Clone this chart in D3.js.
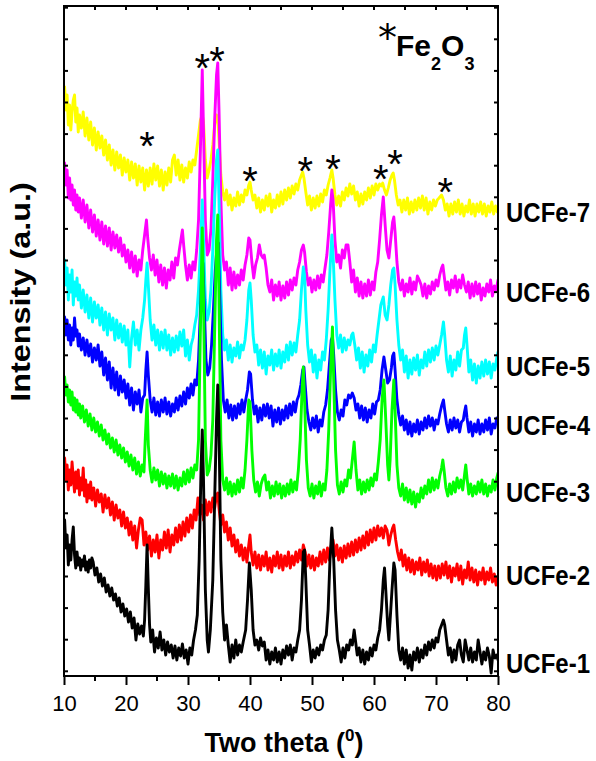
<!DOCTYPE html>
<html>
<head>
<meta charset="utf-8">
<script src="https://cdn.jsdelivr.net/npm/d3@7"></script>
<style>
  body { margin: 0; background: #fff; }
  svg { display: block; }
  text { font-family: "Liberation Sans", Arial, Helvetica, sans-serif; fill: #000; }
</style>
</head>
<body>
<svg id="chart" width="596" height="761"></svg>
<script>
// XRD patterns of the UCFe samples, stacked with a vertical offset each.
const samples = ["UCFe-1", "UCFe-2", "UCFe-3", "UCFe-4", "UCFe-5", "UCFe-6", "UCFe-7"];
const offsets = [0, 100, 180, 250, 300, 380, 460];

// [2θ (deg), intensity (a.u.)]
const ucfe1 = [[10.1,180],[10.3,152],[10.5,165],[10.7,135],[10.9,155],[11.1,140],[11.3,160],[11.5,173],[11.7,145],[11.9,132],[12.1,148],[12.3,135],[12.5,142],[12.7,130],[12.9,140],[13.1,134],[13.3,144],[13.5,130],[13.7,138],[13.9,128],[14.1,140],[14.3,132],[14.5,142],[14.7,138],[15.0,125],[15.3,132],[15.6,118],[15.9,126],[16.2,114],[16.5,122],[16.8,108],[17.1,115],[17.4,104],[17.7,112],[18.0,100],[18.3,106],[18.6,94],[18.9,102],[19.2,88],[19.5,96],[19.8,84],[20.1,91],[20.4,78],[20.7,88],[21.0,72],[21.3,82],[21.6,60],[21.9,76],[22.2,66],[22.5,74],[22.8,64],[23.0,80],[23.2,115],[23.4,155],[23.6,112],[23.8,75],[24.0,58],[24.3,70],[24.6,48],[24.9,62],[25.2,52],[25.5,68],[25.8,50],[26.1,60],[26.4,45],[26.7,58],[27.0,48],[27.3,55],[27.6,42],[27.9,54],[28.2,40],[28.5,52],[28.8,44],[29.1,56],[29.4,42],[29.7,50],[30.0,36],[30.3,52],[30.6,45],[30.9,60],[31.2,70],[31.5,85],[31.8,140],[32.1,230],[32.3,270],[32.5,220],[32.8,110],[33.1,60],[33.3,48],[33.6,70],[34.0,120],[34.3,200],[34.6,280],[34.8,315],[35.0,270],[35.3,140],[35.6,88],[35.9,60],[36.2,75],[36.5,55],[36.8,38],[37.1,55],[37.4,42],[37.7,60],[38.0,45],[38.3,55],[38.6,48],[38.9,58],[39.3,70],[39.6,100],[39.9,137],[40.2,110],[40.5,70],[40.8,55],[41.1,60],[41.4,50],[41.7,62],[42.0,54],[42.3,58],[42.6,40],[42.9,50],[43.2,36],[43.5,48],[43.8,40],[44.1,52],[44.4,38],[44.7,48],[45.0,36],[45.3,50],[45.6,42],[45.9,54],[46.2,45],[46.5,55],[46.8,40],[47.1,52],[47.4,48],[47.7,60],[48.0,70],[48.3,100],[48.6,148],[48.8,150],[49.0,120],[49.3,70],[49.6,55],[49.9,38],[50.2,50],[50.5,42],[50.8,52],[51.1,45],[51.4,55],[51.7,50],[52.0,60],[52.3,65],[52.6,90],[52.9,140],[53.2,172],[53.5,140],[53.8,90],[54.1,60],[54.4,50],[54.7,38],[55.0,52],[55.3,42],[55.6,55],[55.9,50],[56.2,60],[56.5,55],[56.8,70],[57.0,60],[57.3,45],[57.6,52],[57.9,38],[58.2,50],[58.5,36],[58.8,48],[59.1,40],[59.4,52],[59.7,44],[60.0,55],[60.3,50],[60.6,62],[60.9,70],[61.2,90],[61.5,120],[61.7,132],[61.9,110],[62.2,75],[62.4,60],[62.6,80],[62.9,110],[63.2,137],[63.4,130],[63.7,85],[64.0,50],[64.3,40],[64.6,52],[64.9,36],[65.2,50],[65.5,32],[65.8,45],[66.1,30],[66.4,48],[66.7,40],[67.0,52],[67.3,38],[67.6,50],[67.9,42],[68.2,55],[68.5,45],[68.8,58],[69.1,50],[69.4,60],[69.7,52],[70.0,62],[70.3,58],[70.6,70],[70.9,75],[71.2,80],[71.4,75],[71.7,60],[72.0,45],[72.3,52],[72.6,38],[72.9,50],[73.2,40],[73.5,55],[73.8,60],[74.1,45],[74.4,38],[74.7,60],[75.0,50],[75.3,40],[75.6,52],[75.9,38],[76.2,48],[76.5,40],[76.8,60],[77.1,48],[77.4,36],[77.7,48],[78.0,40],[78.3,52],[78.6,44],[78.9,27],[79.2,50],[79.5,42],[79.8,45],[80.0,40]];

const ucfe2 = [[10.1,142],[10.3,120],[10.5,135],[10.7,110],[10.9,130],[11.1,115],[11.3,138],[11.5,122],[11.7,108],[11.9,128],[12.1,112],[12.3,130],[12.5,105],[12.7,122],[12.9,110],[13.1,132],[13.3,104],[13.5,120],[13.7,98],[13.9,115],[14.1,102],[14.3,118],[14.5,100],[14.8,112],[15.1,94],[15.4,110],[15.7,98],[16.0,106],[16.3,88],[16.6,105],[16.9,92],[17.2,102],[17.5,85],[17.8,98],[18.1,80],[18.4,95],[18.7,82],[19.0,90],[19.3,74],[19.6,88],[19.9,72],[20.2,82],[20.5,65],[20.8,78],[21.1,60],[21.4,74],[21.7,52],[22.0,70],[22.3,82],[22.6,80],[22.9,55],[23.2,68],[23.5,50],[23.8,64],[24.1,44],[24.4,60],[24.7,48],[25.0,65],[25.3,42],[25.6,60],[25.9,50],[26.2,68],[26.5,52],[26.8,70],[27.1,48],[27.4,65],[27.7,55],[28.0,72],[28.3,58],[28.6,75],[28.9,60],[29.2,78],[29.5,64],[29.8,82],[30.1,68],[30.4,85],[30.7,72],[31.0,90],[31.3,80],[31.6,102],[31.9,85],[32.2,95],[32.5,80],[32.8,100],[33.1,85],[33.4,98],[33.7,88],[34.0,102],[34.3,92],[34.6,105],[34.8,107],[35.0,92],[35.3,75],[35.6,85],[35.9,68],[36.2,78],[36.5,60],[36.8,72],[37.1,54],[37.4,65],[37.7,48],[38.0,60],[38.3,44],[38.6,55],[38.9,40],[39.2,52],[39.5,38],[39.8,55],[40.0,65],[40.2,48],[40.5,35],[40.8,48],[41.1,32],[41.4,45],[41.7,30],[42.0,44],[42.3,34],[42.6,48],[42.9,30],[43.2,42],[43.5,28],[43.8,44],[44.1,34],[44.4,48],[44.7,32],[45.0,45],[45.3,30],[45.6,44],[45.9,34],[46.2,48],[46.5,32],[46.8,44],[47.1,35],[47.4,48],[47.7,38],[48.0,50],[48.3,40],[48.6,55],[48.9,48],[49.2,34],[49.5,45],[49.8,32],[50.1,44],[50.4,30],[50.7,42],[51.0,34],[51.3,48],[51.6,36],[51.9,50],[52.2,38],[52.5,52],[52.8,40],[53.1,54],[53.4,60],[53.7,44],[54.0,55],[54.3,40],[54.6,52],[54.9,38],[55.2,54],[55.5,42],[55.8,56],[56.1,44],[56.4,58],[56.7,45],[57.0,60],[57.3,48],[57.6,62],[57.9,50],[58.2,64],[58.5,52],[58.8,68],[59.1,55],[59.4,70],[59.7,58],[60.0,72],[60.3,60],[60.6,74],[60.9,64],[61.2,72],[61.5,62],[61.8,74],[62.1,70],[62.4,55],[62.7,65],[63.0,72],[63.2,75],[63.5,60],[63.8,48],[64.1,40],[64.4,50],[64.7,34],[65.0,45],[65.3,30],[65.6,42],[65.9,28],[66.2,40],[66.5,26],[66.8,38],[67.1,30],[67.4,42],[67.7,25],[68.0,38],[68.3,28],[68.6,40],[68.9,24],[69.2,36],[69.5,22],[69.8,34],[70.1,20],[70.4,34],[70.7,22],[71.0,36],[71.3,25],[71.6,38],[71.9,22],[72.2,34],[72.5,18],[72.8,32],[73.1,24],[73.4,36],[73.7,20],[74.0,34],[74.3,16],[74.6,30],[74.9,22],[75.2,38],[75.5,20],[75.8,32],[76.1,18],[76.4,30],[76.7,15],[77.0,28],[77.3,20],[77.6,32],[77.9,16],[78.2,28],[78.5,20],[78.8,32],[79.1,18],[79.4,26],[79.7,15],[80.0,24]];

const ucfe3 = [[10.1,143],[10.3,125],[10.5,135],[10.7,118],[10.9,130],[11.1,115],[11.3,128],[11.5,110],[11.7,122],[11.9,108],[12.1,120],[12.3,105],[12.5,116],[12.7,102],[13.0,114],[13.3,98],[13.6,110],[13.9,94],[14.2,106],[14.5,90],[14.8,102],[15.1,88],[15.4,98],[15.7,84],[16.0,95],[16.3,80],[16.6,90],[16.9,76],[17.2,86],[17.5,72],[17.8,82],[18.1,68],[18.4,80],[18.7,65],[19.0,75],[19.3,62],[19.6,72],[19.9,58],[20.2,68],[20.5,54],[20.8,65],[21.1,50],[21.4,62],[21.7,46],[22.0,58],[22.3,44],[22.6,55],[22.9,48],[23.1,80],[23.4,120],[23.6,75],[23.9,50],[24.2,38],[24.5,52],[24.8,40],[25.1,50],[25.4,34],[25.7,48],[26.0,36],[26.3,46],[26.6,32],[26.9,44],[27.2,34],[27.5,46],[27.8,32],[28.1,44],[28.4,30],[28.7,42],[29.0,34],[29.3,48],[29.6,36],[29.9,50],[30.2,38],[30.5,52],[30.8,42],[31.1,55],[31.4,50],[31.7,80],[32.0,190],[32.3,292],[32.5,220],[32.8,80],[33.1,45],[33.4,50],[33.7,65],[34.0,100],[34.3,190],[34.6,280],[34.8,305],[35.0,220],[35.3,80],[35.6,40],[35.9,30],[36.2,42],[36.5,26],[36.8,38],[37.1,24],[37.4,36],[37.7,26],[38.0,40],[38.3,28],[38.6,42],[38.9,32],[39.2,50],[39.5,80],[39.8,120],[40.0,118],[40.3,70],[40.6,40],[40.9,28],[41.2,38],[41.5,24],[41.8,36],[42.1,42],[42.4,45],[42.7,30],[43.0,38],[43.3,22],[43.6,34],[43.9,24],[44.2,38],[44.5,26],[44.8,36],[45.1,22],[45.4,34],[45.7,24],[46.0,36],[46.3,26],[46.6,40],[46.9,28],[47.2,38],[47.5,30],[47.8,50],[48.1,80],[48.4,130],[48.6,153],[48.8,120],[49.1,60],[49.4,32],[49.7,24],[50.0,36],[50.3,22],[50.6,34],[50.9,26],[51.2,38],[51.5,24],[51.8,36],[52.1,30],[52.4,50],[52.7,90],[53.0,150],[53.3,193],[53.5,140],[53.8,70],[54.1,35],[54.4,26],[54.7,38],[55.0,28],[55.3,40],[55.6,34],[55.9,50],[56.2,42],[56.5,60],[56.8,78],[57.1,50],[57.4,30],[57.7,40],[58.0,26],[58.3,38],[58.6,28],[58.9,40],[59.2,30],[59.5,42],[59.8,34],[60.1,46],[60.4,40],[60.7,58],[61.0,80],[61.3,120],[61.6,140],[61.9,100],[62.2,55],[62.4,40],[62.6,60],[62.9,110],[63.2,140],[63.4,110],[63.7,55],[64.0,32],[64.3,24],[64.6,36],[64.9,20],[65.2,32],[65.5,18],[65.8,30],[66.1,16],[66.4,28],[66.7,13],[67.0,26],[67.3,18],[67.6,32],[67.9,22],[68.2,34],[68.5,26],[68.8,40],[69.1,28],[69.4,42],[69.7,30],[70.0,40],[70.3,32],[70.6,44],[70.9,52],[71.1,60],[71.3,50],[71.6,32],[71.9,24],[72.2,36],[72.5,26],[72.8,38],[73.1,28],[73.4,42],[73.7,32],[74.0,40],[74.3,30],[74.6,45],[74.8,55],[75.0,42],[75.3,26],[75.6,36],[75.9,24],[76.2,34],[76.5,26],[76.8,38],[77.1,28],[77.4,40],[77.7,26],[78.0,36],[78.3,24],[78.6,34],[78.9,28],[79.2,40],[79.5,30],[79.8,42],[80.0,47]];

const ucfe4 = [[10.1,133],[10.3,115],[10.5,130],[10.7,110],[10.9,125],[11.1,105],[11.3,122],[11.5,110],[11.7,132],[11.9,114],[12.1,120],[12.3,104],[12.5,116],[12.8,100],[13.1,112],[13.4,95],[13.7,110],[14.0,94],[14.3,106],[14.6,88],[14.9,102],[15.2,90],[15.5,105],[15.8,84],[16.1,98],[16.4,75],[16.7,92],[17.0,70],[17.3,88],[17.6,62],[17.9,82],[18.2,60],[18.5,78],[18.8,55],[19.1,74],[19.4,58],[19.7,70],[20.0,52],[20.3,66],[20.6,45],[20.9,62],[21.2,40],[21.5,58],[21.8,46],[22.1,60],[22.4,38],[22.7,52],[23.0,55],[23.2,80],[23.4,98],[23.6,75],[23.9,50],[24.2,38],[24.5,52],[24.8,35],[25.1,48],[25.4,34],[25.7,50],[26.0,38],[26.3,52],[26.6,36],[26.9,48],[27.2,34],[27.5,46],[27.8,38],[28.1,52],[28.4,40],[28.7,54],[29.0,44],[29.3,58],[29.6,46],[29.9,62],[30.2,52],[30.5,66],[30.8,55],[31.1,70],[31.4,65],[31.7,90],[32.0,140],[32.2,180],[32.4,187],[32.6,150],[32.9,90],[33.2,75],[33.5,82],[33.8,105],[34.1,140],[34.4,180],[34.7,205],[34.9,207],[35.1,160],[35.4,90],[35.7,50],[36.0,38],[36.3,50],[36.6,32],[36.9,45],[37.2,30],[37.5,44],[37.8,32],[38.1,46],[38.4,36],[38.7,50],[39.0,38],[39.3,50],[39.6,60],[39.9,78],[40.1,76],[40.4,50],[40.7,36],[41.0,44],[41.3,28],[41.6,42],[41.9,30],[42.2,45],[42.5,34],[42.8,46],[43.1,32],[43.4,44],[43.7,24],[44.0,40],[44.3,28],[44.6,42],[44.9,26],[45.2,40],[45.5,30],[45.8,44],[46.1,32],[46.4,46],[46.7,35],[47.0,48],[47.3,38],[47.6,50],[47.9,55],[48.2,65],[48.5,80],[48.7,83],[48.9,65],[49.2,40],[49.5,28],[49.8,20],[50.1,32],[50.4,22],[50.7,34],[51.0,18],[51.3,30],[51.6,24],[51.9,38],[52.2,45],[52.5,60],[52.8,85],[53.1,110],[53.3,113],[53.5,95],[53.8,60],[54.1,38],[54.4,30],[54.7,40],[55.0,34],[55.3,50],[55.6,45],[55.9,55],[56.2,52],[56.5,57],[56.8,52],[57.1,40],[57.4,46],[57.7,32],[58.0,44],[58.3,30],[58.6,42],[58.9,28],[59.2,40],[59.5,32],[59.8,46],[60.1,36],[60.4,48],[60.7,50],[61.0,60],[61.3,80],[61.6,93],[61.9,80],[62.2,67],[62.5,70],[62.8,82],[63.0,94],[63.2,97],[63.4,80],[63.7,50],[64.0,35],[64.3,25],[64.6,34],[64.9,20],[65.2,30],[65.5,16],[65.8,28],[66.1,14],[66.4,26],[66.7,18],[67.0,30],[67.3,16],[67.6,28],[67.9,20],[68.2,32],[68.5,22],[68.8,34],[69.1,24],[69.4,32],[69.7,20],[70.0,30],[70.3,26],[70.6,36],[70.9,44],[71.2,50],[71.4,40],[71.7,26],[72.0,18],[72.3,30],[72.6,20],[72.9,32],[73.2,22],[73.5,30],[73.8,18],[74.1,28],[74.4,30],[74.6,38],[74.8,44],[75.0,32],[75.3,18],[75.6,28],[75.9,14],[76.2,26],[76.5,18],[76.8,30],[77.1,16],[77.4,26],[77.7,18],[78.0,30],[78.3,20],[78.6,32],[78.9,16],[79.2,26],[79.5,22],[79.8,32],[80.0,30]];

const ucfe5 = [[10.1,140],[10.3,115],[10.5,132],[10.7,100],[10.9,125],[11.1,108],[11.3,130],[11.5,95],[11.7,118],[11.9,104],[12.1,122],[12.3,100],[12.5,115],[12.8,92],[13.1,110],[13.4,88],[13.7,105],[14.0,82],[14.3,102],[14.6,78],[14.9,98],[15.2,82],[15.5,95],[15.8,75],[16.1,92],[16.4,70],[16.7,88],[17.0,65],[17.3,86],[17.6,70],[17.9,82],[18.2,60],[18.5,80],[18.8,62],[19.1,76],[19.4,58],[19.7,74],[20.0,55],[20.3,70],[20.6,33],[20.9,62],[21.2,78],[21.5,55],[21.8,70],[22.1,50],[22.4,70],[22.7,82],[23.0,100],[23.2,120],[23.4,137],[23.6,115],[23.9,80],[24.2,60],[24.5,75],[24.8,55],[25.1,70],[25.4,50],[25.7,68],[26.0,52],[26.3,70],[26.6,50],[26.9,65],[27.2,45],[27.5,62],[27.8,48],[28.1,64],[28.4,50],[28.7,68],[29.0,54],[29.3,70],[29.6,44],[29.9,60],[30.2,40],[30.5,55],[30.8,62],[31.1,75],[31.4,85],[31.7,110],[32.0,150],[32.3,200],[32.5,160],[32.8,100],[33.1,80],[33.4,88],[33.7,110],[34.0,150],[34.3,200],[34.6,240],[34.8,250],[35.0,200],[35.3,110],[35.6,65],[35.9,50],[36.2,60],[36.5,40],[36.8,55],[37.1,38],[37.4,52],[37.7,44],[38.0,58],[38.3,42],[38.6,55],[38.9,50],[39.2,60],[39.5,80],[39.8,110],[40.0,117],[40.2,100],[40.5,65],[40.8,48],[41.1,55],[41.4,35],[41.7,50],[42.0,32],[42.3,48],[42.6,26],[42.9,44],[43.2,35],[43.5,50],[43.8,30],[44.1,46],[44.4,34],[44.7,50],[45.0,32],[45.3,48],[45.6,38],[45.9,55],[46.2,40],[46.5,58],[46.8,45],[47.1,57],[47.4,48],[47.7,65],[48.0,80],[48.3,110],[48.6,133],[48.8,125],[49.0,90],[49.3,55],[49.6,38],[49.9,50],[50.2,28],[50.5,45],[50.8,22],[51.1,40],[51.4,30],[51.7,48],[52.0,40],[52.3,60],[52.6,90],[52.9,130],[53.2,165],[53.4,145],[53.7,100],[54.0,65],[54.3,52],[54.6,65],[54.9,48],[55.2,62],[55.5,50],[55.8,60],[56.1,55],[56.4,65],[56.6,67],[56.9,55],[57.2,40],[57.5,52],[57.8,32],[58.1,48],[58.4,28],[58.7,45],[59.0,34],[59.3,50],[59.6,38],[59.9,55],[60.2,48],[60.5,65],[60.8,80],[61.1,95],[61.5,103],[61.8,85],[62.1,80],[62.4,95],[62.7,115],[63.0,130],[63.2,132],[63.4,115],[63.7,80],[64.0,55],[64.3,40],[64.6,50],[64.9,28],[65.2,44],[65.5,22],[65.8,40],[66.1,26],[66.4,42],[66.7,30],[67.0,45],[67.3,25],[67.6,40],[67.9,32],[68.2,48],[68.5,34],[68.8,50],[69.1,38],[69.4,52],[69.7,40],[70.0,54],[70.3,45],[70.6,55],[70.9,65],[71.2,78],[71.4,65],[71.7,40],[72.0,28],[72.3,44],[72.6,24],[72.9,40],[73.2,30],[73.5,48],[73.8,34],[74.1,50],[74.4,52],[74.6,65],[74.8,72],[75.0,55],[75.3,28],[75.6,40],[75.9,20],[76.2,36],[76.5,17],[76.8,34],[77.1,22],[77.4,38],[77.7,24],[78.0,40],[78.3,26],[78.6,38],[78.9,22],[79.2,36],[79.5,30],[79.8,42],[80.0,48]];

const ucfe6 = [[10.1,157],[10.3,135],[10.5,150],[10.7,122],[10.9,142],[11.1,120],[11.3,135],[11.5,115],[11.7,130],[11.9,110],[12.1,125],[12.3,108],[12.5,122],[12.8,102],[13.1,120],[13.4,98],[13.7,115],[14.0,92],[14.3,110],[14.6,88],[14.9,105],[15.2,84],[15.5,100],[15.8,80],[16.1,98],[16.4,76],[16.7,94],[17.0,74],[17.3,92],[17.6,70],[17.9,88],[18.2,72],[18.5,85],[18.8,68],[19.1,82],[19.4,64],[19.7,75],[20.0,58],[20.3,70],[20.6,52],[20.9,68],[21.2,48],[21.5,64],[21.8,44],[22.1,60],[22.4,50],[22.7,70],[23.0,85],[23.3,100],[23.5,82],[23.8,62],[24.1,50],[24.4,65],[24.7,45],[25.0,60],[25.3,38],[25.6,55],[25.9,35],[26.2,52],[26.5,32],[26.8,50],[27.1,40],[27.4,58],[27.7,42],[28.0,62],[28.3,55],[28.6,70],[28.9,82],[29.1,90],[29.3,75],[29.6,55],[29.9,40],[30.2,55],[30.5,42],[30.8,58],[31.1,50],[31.4,70],[31.7,100],[32.0,170],[32.3,250],[32.5,190],[32.8,100],[33.1,65],[33.4,70],[33.7,90],[34.0,140],[34.3,200],[34.6,245],[34.8,257],[35.0,210],[35.3,120],[35.6,65],[35.9,50],[36.2,58],[36.5,35],[36.8,52],[37.1,30],[37.4,48],[37.7,32],[38.0,45],[38.3,35],[38.6,50],[38.9,40],[39.2,55],[39.5,65],[39.8,82],[40.0,80],[40.3,58],[40.6,42],[40.9,55],[41.2,62],[41.5,75],[41.8,65],[42.1,62],[42.3,65],[42.6,52],[42.9,35],[43.2,28],[43.5,40],[43.8,20],[44.1,35],[44.4,24],[44.7,38],[45.0,20],[45.3,34],[45.6,22],[45.9,38],[46.2,25],[46.5,40],[46.8,30],[47.1,42],[47.4,35],[47.7,50],[48.0,58],[48.3,70],[48.6,75],[48.8,68],[49.1,48],[49.4,35],[49.7,42],[50.0,28],[50.3,40],[50.6,30],[50.9,44],[51.2,32],[51.5,45],[51.8,38],[52.1,52],[52.4,65],[52.7,88],[53.0,115],[53.2,130],[53.4,120],[53.7,80],[54.0,58],[54.3,65],[54.6,52],[54.9,70],[55.2,62],[55.5,75],[55.8,75],[56.1,58],[56.4,38],[56.7,50],[57.0,28],[57.3,42],[57.6,24],[57.9,38],[58.2,22],[58.5,36],[58.8,24],[59.1,40],[59.4,25],[59.7,38],[60.0,30],[60.3,48],[60.6,58],[60.9,80],[61.2,105],[61.5,123],[61.8,95],[62.1,70],[62.4,62],[62.7,80],[63.0,98],[63.2,103],[63.4,88],[63.7,58],[64.0,38],[64.3,30],[64.6,40],[64.9,24],[65.2,36],[65.5,28],[65.8,42],[66.1,26],[66.4,38],[66.7,30],[67.0,44],[67.3,40],[67.6,35],[67.9,24],[68.2,36],[68.5,22],[68.8,34],[69.1,26],[69.4,38],[69.7,30],[70.0,40],[70.3,34],[70.6,45],[70.9,52],[71.1,55],[71.3,45],[71.6,30],[71.9,38],[72.2,25],[72.5,40],[72.8,32],[73.1,44],[73.4,28],[73.7,40],[74.0,32],[74.3,45],[74.6,35],[74.9,28],[75.2,38],[75.5,22],[75.8,36],[76.1,24],[76.4,38],[76.7,26],[77.0,36],[77.3,20],[77.6,32],[77.9,24],[78.2,36],[78.5,28],[78.8,40],[79.1,24],[79.4,34],[79.7,30],[80.0,40]];

const ucfe7 = [[10.1,153],[10.3,130],[10.5,145],[10.7,115],[10.9,135],[11.1,110],[11.3,128],[11.5,140],[11.7,145],[11.9,118],[12.1,132],[12.3,108],[12.5,125],[12.8,112],[13.1,128],[13.4,104],[13.7,122],[14.0,100],[14.3,118],[14.6,95],[14.9,112],[15.2,90],[15.5,108],[15.8,92],[16.1,104],[16.4,85],[16.7,100],[17.0,80],[17.3,95],[17.6,75],[17.9,90],[18.2,70],[18.5,88],[18.8,72],[19.1,85],[19.4,65],[19.7,82],[20.0,68],[20.3,80],[20.6,60],[20.9,78],[21.2,62],[21.5,76],[21.8,55],[22.1,74],[22.4,58],[22.7,72],[23.0,50],[23.3,70],[23.6,54],[23.9,72],[24.2,56],[24.5,76],[24.8,60],[25.1,74],[25.4,54],[25.7,70],[26.0,50],[26.3,68],[26.6,55],[26.9,72],[27.2,58],[27.5,80],[27.8,85],[28.1,65],[28.4,80],[28.7,60],[29.0,75],[29.3,58],[29.6,72],[29.9,62],[30.2,78],[30.5,68],[30.8,80],[31.1,75],[31.4,90],[31.7,105],[32.0,120],[32.3,125],[32.5,118],[32.8,80],[33.1,62],[33.4,70],[33.7,80],[34.0,95],[34.3,115],[34.6,125],[34.8,122],[35.0,100],[35.3,65],[35.6,48],[35.9,40],[36.2,50],[36.5,35],[36.8,45],[37.1,30],[37.4,42],[37.7,34],[38.0,48],[38.3,35],[38.6,45],[38.9,38],[39.2,50],[39.5,45],[39.8,55],[40.0,58],[40.2,50],[40.5,40],[40.8,45],[41.1,32],[41.4,42],[41.7,28],[42.0,40],[42.3,30],[42.6,44],[42.9,34],[43.2,46],[43.5,28],[43.8,40],[44.1,32],[44.4,45],[44.7,34],[45.0,48],[45.3,36],[45.6,50],[45.9,40],[46.2,52],[46.5,42],[46.8,54],[47.1,46],[47.4,56],[47.7,50],[48.0,60],[48.3,65],[48.5,68],[48.7,62],[49.0,48],[49.3,35],[49.6,44],[49.9,30],[50.2,42],[50.5,32],[50.8,44],[51.1,34],[51.4,46],[51.7,38],[52.0,50],[52.3,45],[52.6,55],[52.9,62],[53.2,70],[53.4,62],[53.7,45],[54.0,35],[54.3,44],[54.6,34],[54.9,48],[55.2,40],[55.5,52],[55.8,44],[56.1,56],[56.4,46],[56.7,54],[57.0,40],[57.3,48],[57.6,34],[57.9,46],[58.2,36],[58.5,48],[58.8,40],[59.1,52],[59.4,42],[59.7,54],[60.0,45],[60.3,56],[60.6,50],[60.9,56],[61.2,54],[61.4,57],[61.7,50],[62.0,45],[62.3,52],[62.6,60],[62.9,65],[63.1,67],[63.3,60],[63.6,45],[63.9,35],[64.2,40],[64.5,28],[64.8,40],[65.1,30],[65.4,42],[65.7,26],[66.0,38],[66.3,28],[66.6,40],[66.9,30],[67.2,42],[67.5,32],[67.8,44],[68.1,30],[68.4,42],[68.7,26],[69.0,38],[69.3,30],[69.6,40],[69.9,34],[70.2,40],[70.5,42],[70.9,45],[71.2,40],[71.5,30],[71.8,36],[72.1,24],[72.4,36],[72.7,26],[73.0,38],[73.3,28],[73.6,40],[73.9,26],[74.2,36],[74.5,24],[74.8,34],[75.1,28],[75.4,40],[75.7,26],[76.0,36],[76.3,24],[76.6,36],[76.9,28],[77.2,38],[77.5,26],[77.8,36],[78.1,24],[78.4,34],[78.7,28],[79.0,38],[79.3,26],[79.6,34],[79.9,28],[80.0,32]];

const patterns = [ucfe1, ucfe2, ucfe3, ucfe4, ucfe5, ucfe6, ucfe7];
const lineColors = ["#000000", "#ff0000", "#00ff00", "#0000ff", "#00ffff", "#ff00ff", "#ffff00"];

// stacked level at which each sample name is written
const labelLevels = [37, 125, 208, 275, 334, 408, 488];

// Fe2O3 reflections: [2θ, stacked intensity of the marker]
const fe2o3Peaks = [[23.4,565],[32.3,643],[34.7,650],[40.0,530],[48.9,540],[53.4,542],[61.1,532],[63.4,547],[71.5,519]];

const xMajorTicks = [10, 20, 30, 40, 50, 60, 70, 80];
const xMinorTicks = [15, 25, 35, 45, 55, 65, 75];
const yTickStart = 28.7, yTickStep = 31.6;

// ---- layout ----
const plot = { left: 64, right: 498, top: 6, bottom: 676 };

const svg = d3.select("#chart");
const x = d3.scaleLinear().domain([10, 80]).range([plot.left, plot.right]);
const y = d3.scaleLinear().domain([24, 694]).range([plot.bottom, plot.top]);

const clipId = "plot-clip";
svg.append("defs").append("clipPath").attr("id", clipId)
  .append("rect")
  .attr("x", plot.left).attr("y", plot.top)
  .attr("width", plot.right - plot.left).attr("height", plot.bottom - plot.top);

// curves: top sample drawn first so the lower ones sit over it
const line = d3.line().x(d => x(d[0])).y(d => y(d[1])).curve(d3.curveLinear);
const curves = svg.append("g").attr("clip-path", `url(#${clipId})`);
for (let i = patterns.length - 1; i >= 0; i--) {
  const off = offsets[i];
  curves.append("path")
    .datum(patterns[i].map(p => [p[0], p[1] + off]))
    .attr("d", line)
    .attr("fill", "none")
    .attr("stroke", lineColors[i])
    .attr("stroke-width", 2.9)
    .attr("stroke-linejoin", "round")
    .attr("stroke-linecap", "round");
}

// frame
svg.append("rect")
  .attr("x", plot.left).attr("y", plot.top)
  .attr("width", plot.right - plot.left).attr("height", plot.bottom - plot.top)
  .attr("fill", "none").attr("stroke", "#000").attr("stroke-width", 2);

// bottom axis: major ticks with labels, minor ticks outward
const bottom = svg.append("g").attr("transform", `translate(0,${plot.bottom})`);
bottom.call(d3.axisBottom(x).tickValues(xMajorTicks).tickSize(9).tickPadding(10).tickFormat(d3.format("d")))
  .call(g => g.select(".domain").remove())
  .call(g => g.selectAll("line").attr("stroke", "#000").attr("stroke-width", 2))
  .call(g => g.selectAll("text").attr("font-size", 22).attr("font-family", "\"Liberation Sans\", Arial, sans-serif").attr("fill", "#000"));
bottom.selectAll(".minor").data(xMinorTicks).enter().append("line")
  .attr("x1", d => x(d)).attr("x2", d => x(d))
  .attr("y1", 0).attr("y2", 5)
  .attr("stroke", "#000").attr("stroke-width", 2);

// top axis: short inward ticks every 5°
const allX = xMajorTicks.concat(xMinorTicks);
svg.append("g").selectAll("line").data(allX).enter().append("line")
  .attr("x1", d => x(d)).attr("x2", d => x(d))
  .attr("y1", plot.top).attr("y2", plot.top + 4)
  .attr("stroke", "#000").attr("stroke-width", 2);

// left/right axes: short inward ticks
const yTicks = d3.range(yTickStart, 694, yTickStep);
const ticksY = svg.append("g");
ticksY.selectAll(".l").data(yTicks).enter().append("line")
  .attr("x1", plot.left).attr("x2", plot.left + 4)
  .attr("y1", d => y(d)).attr("y2", d => y(d))
  .attr("stroke", "#000").attr("stroke-width", 2);
ticksY.selectAll(".r").data(yTicks).enter().append("line")
  .attr("x1", plot.right - 4).attr("x2", plot.right)
  .attr("y1", d => y(d)).attr("y2", d => y(d))
  .attr("stroke", "#000").attr("stroke-width", 2);

// axis titles
const xTitle = svg.append("text")
  .attr("x", (plot.left + plot.right) / 2 + 3).attr("y", 752)
  .attr("text-anchor", "middle")
  .attr("font-size", 27).attr("font-weight", "bold");
xTitle.append("tspan").text("Two theta (");
xTitle.append("tspan").attr("font-size", 17).attr("dy", -11).text("0");
xTitle.append("tspan").attr("dy", 11).text(")");

svg.append("text")
  .attr("transform", `translate(30,292) rotate(-90) scale(1.2,1)`)
  .attr("text-anchor", "middle")
  .attr("font-size", 27).attr("font-weight", "bold")
  .text("Intensity (a.u.)");

// sample names at the right edge
svg.append("g").selectAll("text").data(samples).enter().append("text")
  .attr("transform", (d, i) => `translate(${plot.right + 8},${y(labelLevels[i])}) scale(1,1.12)`)
  .attr("dy", "0.36em")
  .attr("font-size", 24).attr("font-weight", "bold")
  .text(d => d);

// Fe2O3 reflection markers
svg.append("g").selectAll("text").data(fe2o3Peaks).enter().append("text")
  .attr("x", d => x(d[0])).attr("y", d => y(d[1]))
  .attr("dy", "0.62em")
  .attr("text-anchor", "middle")
  .attr("font-size", 40)
  .attr("font-family", "\"DejaVu Sans\", sans-serif")
  .text("*");

// phase key
const key = svg.append("text").attr("x", 378).attr("y", 56).attr("font-weight", "bold").attr("font-size", 30);
key.append("tspan").attr("font-family", "\"DejaVu Sans\", sans-serif").attr("font-weight", "normal").attr("font-size", 38).attr("dy", -5).text("*");
key.append("tspan").attr("dy", 5).attr("dx", -1).text("Fe");
key.append("tspan").attr("font-size", 18).attr("dy", 14).text("2");
key.append("tspan").attr("dy", -14).text("O");
key.append("tspan").attr("font-size", 18).attr("dy", 14).text("3");
</script>
</body>
</html>
